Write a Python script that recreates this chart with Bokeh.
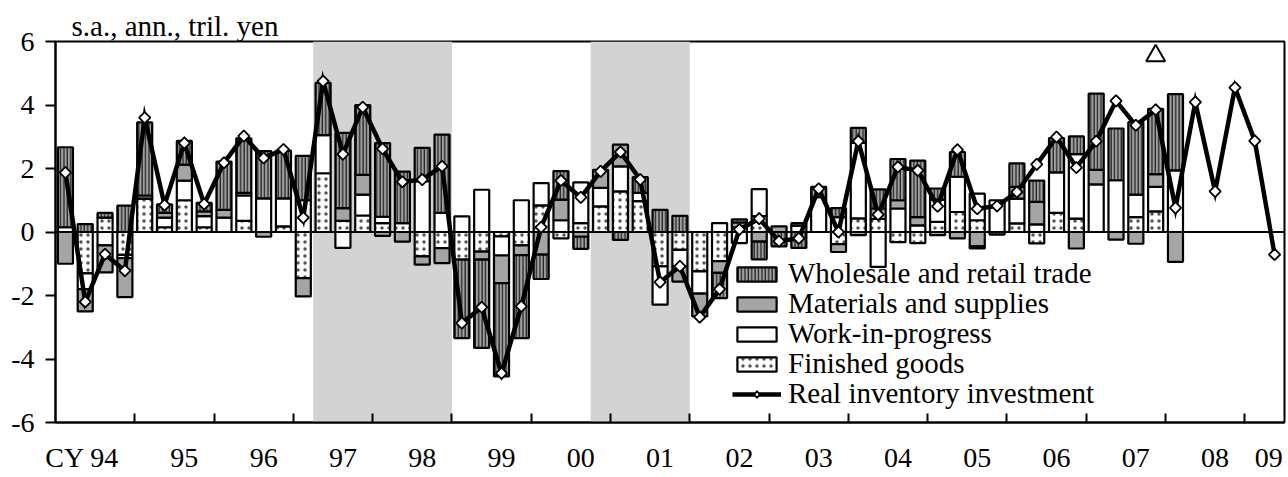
import math
from bokeh.plotting import figure
from bokeh.models import Range1d, FixedTicker, BoxAnnotation, Span, Legend, LegendItem
from bokeh.embed import file_html
from bokeh.resources import INLINE

# ---------------- data ----------------
quarters = [f"{y}Q{q}" for y in range(1994, 2010) for q in range(1, 5)][:62]

# contributions (s.a., ann., tril. yen), 1994Q1 .. 2008Q1
finished_goods = [0.0, -1.3, 0.45, -0.72, 1.05, 0.15, 1.0, 0.15, 0.0, 0.35,
                  0.0, 0.18, -1.45, 1.85, 0.35, 0.52, 0.28, 0.28, -0.77, -0.51,
                  -0.87, -0.62, -0.14, -0.42, 0.84, -0.2, 0.28, 0.81, 1.28, 0.97,
                  -1.08, -0.56, -1.24, -0.92, 0.15, 0.5, 0.0, 0.0, 0.0, -0.38,
                  0.43, 0.41, -0.32, -0.35, 0.32, 0.63, 0.37, 0.0, 0.27, -0.36,
                  0.6, 0.42, 0.0, 0.0, 0.47, 0.65, 0.0]
work_in_progress = [0.15, -0.5, -0.42, -0.1, 0.0, 0.3, 0.62, 0.35, 0.45, 0.8,
                    1.06, 0.88, 1.0, 1.2, -0.5, 0.66, 0.2, 0.0, 1.6, 0.6,
                    0.49, 1.33, -0.6, 1.0, 0.7, 0.37, 1.28, 0.58, 0.79, 0.26,
                    -1.21, -0.52, -0.7, 0.28, -0.35, 0.85, 0.0, 0.2, 1.1, 0.47,
                    2.38, -1.1, 0.74, 0.21, 0.7, 1.11, 0.84, 1.0, 0.78, 0.24,
                    1.28, 2.03, 1.5, 1.63, 0.71, 0.77, 1.94]
materials = [-1.0, -0.7, -0.85, -1.23, 0.1, 0.15, 0.5, 0.15, 0.25, 0.08,
             -0.15, 0.0, -0.58, 0.0, 0.4, 0.62, -0.12, -0.3, -0.26, -0.47,
             0.0, -0.25, -0.87, -0.31, -0.71, 0.65, -0.15, 0.57, 0.68, 0.0,
             0.0, -0.48, -0.72, -0.37, 0.15, -0.3, 0.18, 0.08, 0.0, -0.25,
             -0.1, 0.33, 0.26, 0.26, -0.1, -0.2, -0.45, 0.0, 0.37, 0.71,
             0.0, -0.52, 0.46, -0.24, -0.37, 0.4, -0.94]
wholesale_retail = [2.52, 0.25, 0.15, 0.83, 2.3, 0.27, 0.75, 0.27, 1.52, 1.72,
                    1.49, 1.5, 1.4, 1.65, 2.37, 2.2, 2.32, 1.62, 1.05, 2.47,
                    -2.47, -2.78, -2.94, -2.61, -0.77, 0.9, -0.38, 0.0, -0.25, 0.5,
                    0.7, 0.51, 0.0, -0.79, 0.1, -0.56, -0.45, -0.5, 0.32, 0.28,
                    0.47, 0.6, 1.3, 1.78, 0.35, 0.78, -0.07, -0.08, 0.74, 0.67,
                    1.08, 0.56, 2.4, 1.63, 2.28, 2.06, 2.4]
# real inventory investment, 1994Q1 .. 2009Q2
real_inventory = [1.87, -2.2, -0.7, -1.22, 3.6, 0.85, 2.8, 0.88, 2.18, 3.02,
                  2.33, 2.6, 0.45, 4.75, 2.45, 3.93, 2.62, 1.58, 1.65, 2.07,
                  -2.87, -2.37, -4.45, -2.34, 0.15, 1.62, 1.09, 1.91, 2.52, 1.65,
                  -1.58, -1.08, -2.68, -1.8, 0.08, 0.42, -0.29, -0.2, 1.36, 0.0,
                  2.86, 0.55, 2.05, 1.94, 0.81, 2.59, 0.73, 0.82, 1.26, 2.13,
                  2.99, 2.03, 2.86, 4.13, 3.36, 3.85, 0.76, 4.09, 1.28, 4.55,
                  2.87, -0.71]

year_labels = ["CY 94", "95", "96", "97", "98", "99", "00", "01", "02", "03",
               "04", "05", "06", "07", "08", "09"]
shade_start = ["1997Q2", "2000Q4"]
shade_end = ["1998Q4", "2001Q4"]
mark_quarter = "2007Q4"
mark_value = 5.55

y_ticks = [-6, -4, -2, 0, 2, 4, 6]
y_tick_labels = ["-6", "-4", "-2", "0", "2", "4", "6"]

FONT = "Liberation Serif"

# ---------------- figure ----------------
p = figure(width=1286, height=476, output_backend="svg", toolbar_location=None,
           x_range=Range1d(0, len(quarters)), y_range=Range1d(-6, 6),
           min_border_left=55, min_border_right=2, min_border_top=41,
           min_border_bottom=54)
p.background_fill_color = "white"
p.border_fill_color = "white"
p.outline_line_color = "black"
p.outline_line_width = 2
p.xgrid.visible = False
p.ygrid.visible = False

p.title.text = "s.a., ann., tril. yen"
p.title.align = "left"
p.title.offset = 16
p.title.standoff = 0
p.title.text_font = FONT
p.title.text_font_size = "29px"
p.title.text_font_style = "normal"
p.title.text_color = "black"

idx = {q: i for i, q in enumerate(quarters)}

# shaded periods
for s, e in zip(shade_start, shade_end):
    p.add_layout(BoxAnnotation(left=idx[s], right=idx[e] + 1, fill_color="#d3d3d3",
                               fill_alpha=1, line_color=None, level="underlay"))

p.add_layout(Span(location=0, dimension="width", line_color="black",
                  line_width=2, level="underlay"))

# stacked bars
series = [
    ("Finished goods", finished_goods,
     dict(fill_color="white", hatch_pattern="dot", hatch_color="#555555",
          hatch_scale=7, hatch_weight=1.6)),
    ("Work-in-progress", work_in_progress, dict(fill_color="white")),
    ("Materials and supplies", materials, dict(fill_color="#a5a5a5")),
    ("Wholesale and retail trade", wholesale_retail,
     dict(fill_color="#a0a0a0", hatch_pattern="vertical_line", hatch_color="black",
          hatch_scale=3.4, hatch_weight=1)),
]
n = len(finished_goods)
pos_base = [0.0] * n
neg_base = [0.0] * n
rend = {}
for name, vals, style in series:
    xs, tops, bottoms = [], [], []
    for i, v in enumerate(vals):
        if v >= 0:
            b = pos_base[i]
            t = b + v
            pos_base[i] = t
        else:
            t = neg_base[i]
            b = t + v
            neg_base[i] = b
        if v != 0:
            xs.append(i + 0.5)
            tops.append(t)
            bottoms.append(b)
    rend[name] = p.vbar(x=xs, width=0.76, top=tops, bottom=bottoms,
                        line_color="black", line_width=2.2, **style)

# line
lx = [i + 0.5 for i in range(len(real_inventory))]
r_line = p.line(lx, real_inventory, line_color="black", line_width=4.5,
                line_join="miter")
# diamond used for the legend swatch (hidden beneath the plotted markers)
r_leg_mark = p.scatter(lx[:1], real_inventory[:1], marker="diamond", size=11,
                       fill_color="white", line_color="black", line_width=1.6)
r_mark = p.scatter(lx, real_inventory, marker="square", angle=math.pi / 4, size=8,
                   fill_color="white", line_color="black", line_width=1.8)

# revision mark
p.scatter([idx[mark_quarter] + 0.5], [mark_value], marker="triangle", size=19,
          fill_color="white", line_color="black", line_width=2)

# axes
yax = p.yaxis[0]
yax.ticker = FixedTicker(ticks=y_ticks)
yax.major_label_overrides = {t: l for t, l in zip(y_ticks, y_tick_labels)}
yax.major_tick_in = 0
yax.major_tick_out = 10
yax.major_tick_line_width = 2
yax.minor_tick_line_color = None
yax.axis_line_width = 2
yax.major_label_text_font = FONT
yax.major_label_text_font_size = "28px"
yax.major_label_text_color = "black"
yax.major_label_standoff = 11

label_pos = [1.35] + [4 * k + 2.5 for k in range(1, 15)] + [61.2]
year_bounds = [4 * k for k in range(1, 16)]
xax = p.xaxis[0]
xax.ticker = FixedTicker(ticks=label_pos, minor_ticks=year_bounds)
xax.major_label_overrides = {pos: lab for pos, lab in zip(label_pos, year_labels)}
xax.major_tick_line_color = None
xax.major_tick_in = 0
xax.major_tick_out = 0
xax.minor_tick_in = 9
xax.minor_tick_out = 0
xax.minor_tick_line_width = 2
xax.minor_tick_line_color = "black"
xax.axis_line_width = 2
xax.axis_label_standoff = 0
xax.major_label_text_font = FONT
xax.major_label_text_font_size = "28px"
xax.major_label_text_line_height = 1.0
xax.major_label_text_color = "black"
xax.major_label_standoff = 19

# legend: one single-item legend per row for exact row spacing
legend_rows = [
    ("Wholesale and retail trade", [rend["Wholesale and retail trade"]]),
    ("Materials and supplies", [rend["Materials and supplies"]]),
    ("Work-in-progress", [rend["Work-in-progress"]]),
    ("Finished goods", [rend["Finished goods"]]),
    ("Real inventory investment", [r_line, r_leg_mark]),
]
row_offsets = [132, 102, 72, 42, 12]
for (lab, rs), off in zip(legend_rows, row_offsets):
    lg = Legend(items=[LegendItem(label=lab, renderers=rs)],
                location=(677, off), padding=0, spacing=0, margin=0,
                glyph_width=49, glyph_height=18, label_standoff=7,
                label_text_font=FONT, label_text_font_size="29px",
                label_text_color="black",
                background_fill_alpha=0, border_line_color=None)
    p.add_layout(lg)

open("out.html", "w").write(file_html(p, INLINE))
